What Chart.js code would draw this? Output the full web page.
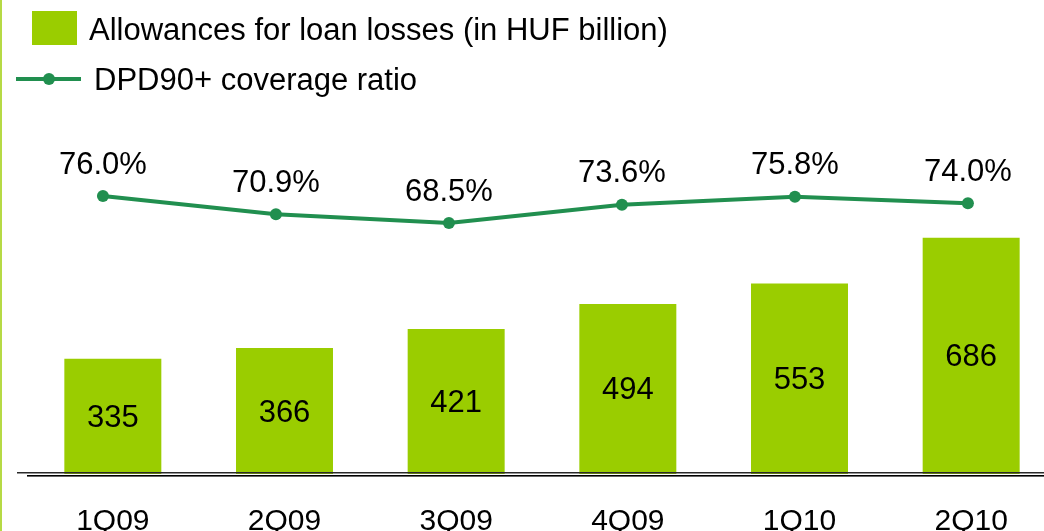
<!DOCTYPE html>
<html>
<head>
<meta charset="utf-8">
<script src="https://cdn.jsdelivr.net/npm/chart.js@4.4.0/dist/chart.umd.min.js"></script>
<style>
  html, body { margin: 0; padding: 0; overflow: hidden; background: #fff; }
  #wrap { position: relative; width: 1080px; height: 560px; }
  #edge { position: absolute; left: 0; top: 0; width: 2px; height: 560px; background: #b6da45; }
</style>
</head>
<body>
<div id="wrap">
  <canvas id="lossChart" width="1080" height="560"></canvas>
  <div id="edge"></div>
</div>
<script>
const quarters   = ['1Q09', '2Q09', '3Q09', '4Q09', '1Q10', '2Q10'];
const allowances = [335, 366, 421, 494, 553, 686];
const coverage   = [76.0, 70.9, 68.5, 73.6, 75.8, 74.0];
const seriesNames = ['Allowances for loan losses (in HUF billion)', 'DPD90+ coverage ratio'];

const BAR_GREEN  = '#9acd00';
const LINE_GREEN = '#218f4f';
const FONT = '"Liberation Sans", Arial, Helvetica, sans-serif';

// value labels, legend and the double baseline are painted by hand
const overlay = {
  id: 'overlay',
  afterDatasetsDraw(chart) {
    const ctx = chart.ctx;
    const { left, bottom } = chart.chartArea;
    ctx.save();

    // double rule under the bars
    ctx.fillStyle = '#2a2a2a';
    ctx.fillRect(left - 10, bottom - 2, chart.width, 1.5);
    ctx.fillStyle = '#000';
    ctx.fillRect(left, bottom + 1, chart.width, 1.6);

    ctx.fillStyle = '#000';
    ctx.textAlign = 'center';
    ctx.textBaseline = 'middle';
    ctx.font = '31px ' + FONT;

    chart.getDatasetMeta(0).data.forEach((bar, i) => {
      ctx.fillText(String(allowances[i]), bar.x, (bar.y + bar.base) / 2 + 2);
    });
    chart.getDatasetMeta(1).data.forEach((pt, i) => {
      ctx.fillText(coverage[i].toFixed(1) + '%', pt.x, pt.y - 31);
    });

    // legend
    ctx.textAlign = 'left';
    ctx.fillStyle = BAR_GREEN;
    ctx.fillRect(32, 11, 45, 34);
    ctx.fillStyle = '#000';
    ctx.fillText(chart.data.datasets[0].label, 89, 31);

    ctx.strokeStyle = LINE_GREEN;
    ctx.lineWidth = 4;
    ctx.beginPath();
    ctx.moveTo(16, 79);
    ctx.lineTo(81, 79);
    ctx.stroke();
    ctx.fillStyle = LINE_GREEN;
    ctx.beginPath();
    ctx.arc(49, 79, 6, 0, Math.PI * 2);
    ctx.fill();
    ctx.fillStyle = '#000';
    ctx.fillText(chart.data.datasets[1].label, 94, 81);

    ctx.restore();
  }
};

new Chart(document.getElementById('lossChart'), {
  type: 'bar',
  data: {
    labels: quarters,
    datasets: [
      {
        type: 'bar',
        label: seriesNames[0],
        data: allowances,
        backgroundColor: BAR_GREEN,
        grouped: false,
        barPercentage: 0.565,
        categoryPercentage: 1,
        xAxisID: 'x',
        yAxisID: 'y',
        order: 1
      },
      {
        type: 'line',
        label: seriesNames[1],
        data: coverage.map((v, i) => ({ x: i, y: v })),
        borderColor: LINE_GREEN,
        backgroundColor: LINE_GREEN,
        borderWidth: 4,
        pointRadius: 6,
        pointBackgroundColor: LINE_GREEN,
        pointBorderWidth: 0,
        tension: 0,
        xAxisID: 'xl',
        yAxisID: 'yl',
        order: 0
      }
    ]
  },
  options: {
    responsive: false,
    animation: false,
    layout: { padding: { left: 27, right: 23, top: 140, bottom: 0 } },
    plugins: { legend: { display: false }, tooltip: { enabled: false } },
    scales: {
      x: {
        type: 'category',
        offset: true,
        grid: { display: false },
        border: { display: false },
        ticks: { color: '#000', font: { family: FONT, size: 30 }, padding: 22 },
        afterFit: s => { s.height = 86; }
      },
      xl: { type: 'linear', display: false, offset: false, min: -0.439, max: 5.515 },
      y:  { display: false, min: 0, max: 970 },
      yl: { display: false, min: -1.4, max: 91.6 }
    }
  },
  plugins: [overlay]
});
</script>
</body>
</html>
